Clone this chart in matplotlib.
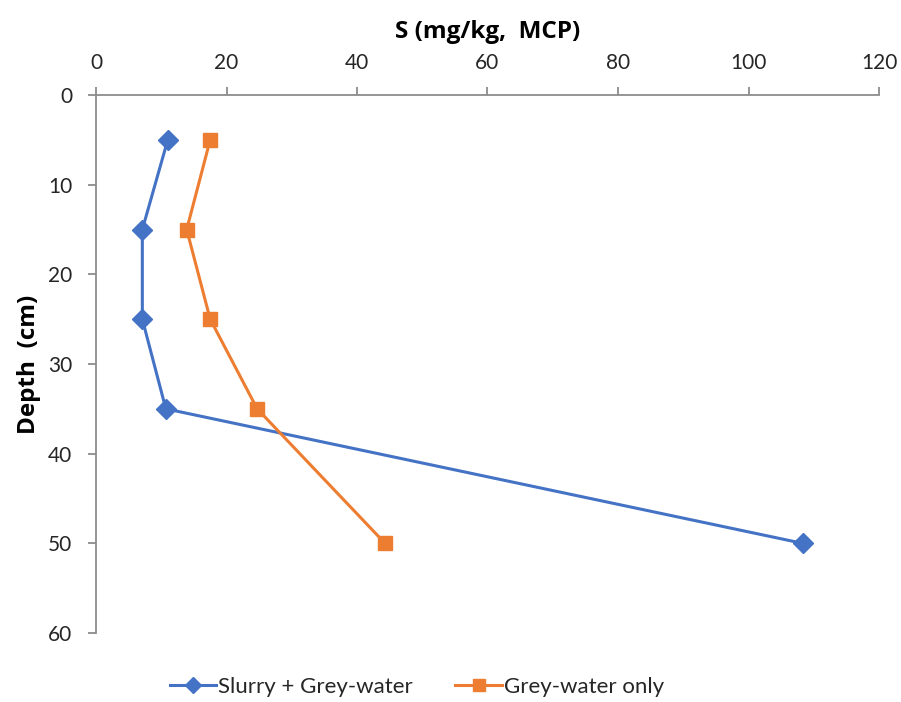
import matplotlib
matplotlib.use("Agg")
import matplotlib.pyplot as plt

plt.rcParams['font.family'] = ['Lato', 'DejaVu Sans']

depth = [5, 15, 25, 35, 50]
slurry_grey = [11.0, 7.1, 7.1, 10.7, 108.3]
grey_only = [17.5, 13.9, 17.5, 24.7, 44.3]
x_ticks = [0, 20, 40, 60, 80, 100, 120]
y_ticks = [0, 10, 20, 30, 40, 50, 60]

blue = '#4472C4'
orange = '#ED7D31'
axis_grey = '#8C8C8C'
text_col = '#262626'

fig = plt.figure(figsize=(9.01, 7.02), dpi=100)
ax = fig.add_axes([96 / 901, 1 - 633 / 702, (879 - 96) / 901, (633 - 95) / 702])

ax.plot(slurry_grey, depth, color=blue, lw=2.2, marker='D', markersize=10,
        label='Slurry + Grey-water')
ax.plot(grey_only, depth, color=orange, lw=2.2, marker='s', markersize=10,
        label='Grey-water only')

ax.set_xlim(0, 120)
ax.set_ylim(60, 0)
ax.set_xticks(x_ticks)
ax.set_yticks(y_ticks)
ax.xaxis.tick_top()
ax.xaxis.set_label_position('top')

for side in ['right', 'bottom']:
    ax.spines[side].set_visible(False)
for side in ['top', 'left']:
    ax.spines[side].set_color(axis_grey)
    ax.spines[side].set_linewidth(1.3)

ax.tick_params(axis='both', which='major', direction='out', length=6,
               width=1.3, color=axis_grey, labelsize=15, labelcolor=text_col)
ax.tick_params(axis='x', pad=10)
ax.tick_params(axis='y', pad=11)

label_font = dict(family=['Open Sans', 'DejaVu Sans'], fontsize=17.5,
                  fontweight='bold', color='black')
ax.set_xlabel('S (mg/kg,  MCP)', labelpad=11, **label_font)
ax.set_ylabel('Depth  (cm)', labelpad=5, **label_font)

fig.legend(loc='center', bbox_to_anchor=(417 / 901, 1 - 687 / 702), ncol=2,
           frameon=False, fontsize=16, handlelength=2.1, columnspacing=1.9,
           handletextpad=0.1, labelcolor=text_col, markerscale=0.85)

fig.savefig('out.png', dpi=100)
